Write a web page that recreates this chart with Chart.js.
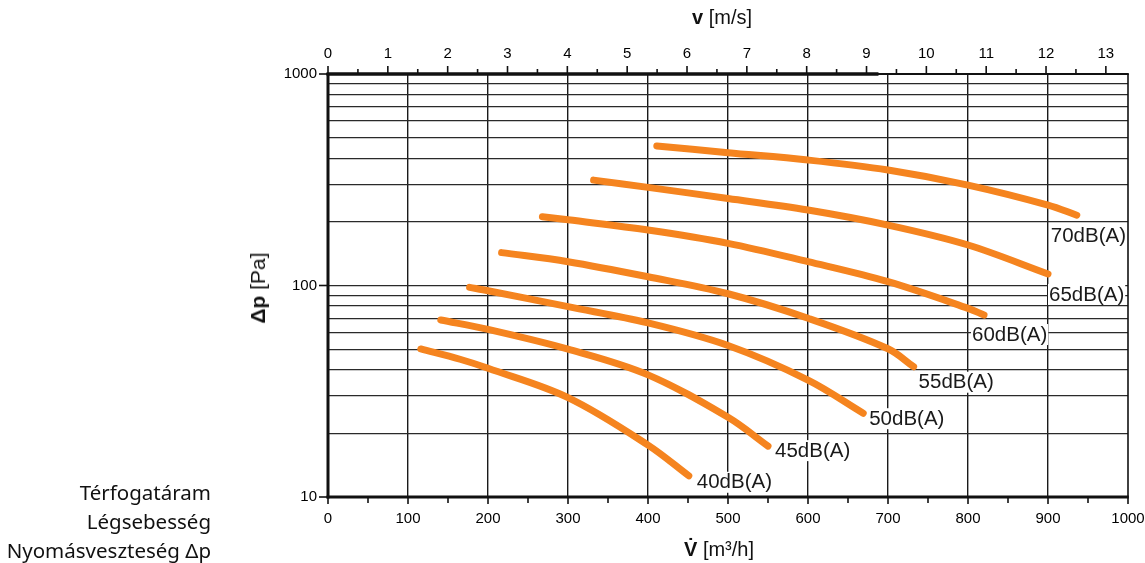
<!DOCTYPE html>
<html>
<head>
<meta charset="utf-8">
<script src="https://cdn.jsdelivr.net/npm/chart.js@4.4.1/dist/chart.umd.min.js"></script>
<style>
  html, body { margin:0; padding:0; background:#fff; }
  #wrap { position:relative; width:1145px; height:563px; overflow:hidden; }
  canvas { position:absolute; left:0; top:0; }
  .t { position:absolute; font-family:"Liberation Sans", Arial, sans-serif; font-size:20px; color:#111; white-space:nowrap; }
  .legend { position:absolute; right:934px; font-family:"Noto Sans", sans-serif; font-size:20.5px; color:#111; text-align:right; white-space:nowrap; line-height:29px; }
</style>
</head>
<body>
<div id="wrap">
  <canvas id="c" width="1145" height="563"></canvas>
  <div class="t" style="left:692px; top:6px;"><b>v</b> [m/s]</div>
  <div class="t" style="left:684px; top:538px;"><b>V&#775;</b> [m³/h]</div>
  <div class="t" style="left:258px; top:288px; font-size:21px; transform:translate(-50%,-50%) rotate(-90deg);"><b>Δp</b> [Pa]</div>
  <div class="legend" style="top:478px;">Térfogatáram<br>Légsebesség<br>Nyomásveszteség Δp</div>
</div>
<script>
// ---- data ----
const curveLabels = ["40dB(A)", "45dB(A)", "50dB(A)", "55dB(A)", "60dB(A)", "65dB(A)", "70dB(A)"];
const flow40 = [116, 165, 200, 300, 400, 451];
const dp40   = [50.1, 44.8, 40.6, 29.5, 17.6, 12.6];
const flow45 = [141, 200, 300, 400, 500, 550];
const dp45   = [68.7, 62, 50, 37.8, 23.8, 17.4];
const flow50 = [177, 200, 300, 400, 500, 600, 669];
const dp50   = [98, 94.5, 79.4, 66.5, 52, 35.7, 24.9];
const flow55 = [217, 300, 400, 500, 600, 700, 732];
const dp55   = [143, 129.6, 110, 91.4, 70, 50.2, 41.3];
const flow60 = [268, 300, 400, 500, 600, 700, 800, 820];
const dp60   = [211.6, 204.5, 183, 158.3, 129.6, 104.2, 78, 72.5];
const flow65 = [332, 400, 500, 600, 700, 800, 900];
const dp65   = [315, 291, 258, 227.5, 193, 155.4, 113.4];
const flow70 = [411, 500, 600, 700, 800, 900, 936];
const dp70   = [457, 424.6, 392, 351.6, 298.5, 240, 215];
const flowTicks = [0, 100, 200, 300, 400, 500, 600, 700, 800, 900, 1000];
const speedTicks = [0,1,2,3,4,5,6,7,8,9,10,11,12,13];
const dpTicks = [10, 100, 1000];
const flowMin = 0, flowMax = 1000;
const speedMax = 13.37;
const dpMin = 10, dpMax = 1000;

const flows = [flow40, flow45, flow50, flow55, flow60, flow65, flow70];
const dps   = [dp40, dp45, dp50, dp55, dp60, dp65, dp70];

// label offsets in pixels from curve end (style only)
const labelOffsets = [[8,6],[7,4],[6,5],[5,15],[-12,19],[1,20],[-26,20]];

const ORANGE = '#F5841F';
const FONT = '"Liberation Sans", Arial, sans-serif';

const datasets = flows.map((fl, i) => ({
  label: curveLabels[i],
  data: fl.map((v, j) => ({x: v, y: dps[i][j]})),
  borderColor: ORANGE,
  borderWidth: 7,
  borderCapStyle: 'round',
  borderJoinStyle: 'round',
  pointRadius: 0,
  fill: false,
  tension: 0.35,
  xAxisID: 'x',
  yAxisID: 'y'
}));

const deco = {
  id: 'deco',
  afterDraw(chart) {
    const {ctx, chartArea} = chart;
    const {left, right, top, bottom} = chartArea;
    const x = chart.scales.x, x2 = chart.scales.x2, y = chart.scales.y;
    ctx.save();
    ctx.strokeStyle = '#111';
    ctx.lineCap = 'butt';
    const ln = (a,b,c,d,w) => { ctx.lineWidth = w; ctx.beginPath(); ctx.moveTo(a,b); ctx.lineTo(c,d); ctx.stroke(); };
    for (let v = flowMin; v <= flowMax; v += 50) {
      const px = x.getPixelForValue(v);
      ln(px, bottom, px, bottom + (flowTicks.includes(v) ? 7 : 6), 1.6);
    }
    for (let v = 0; v <= speedMax; v += 0.5) {
      const px = x2.getPixelForValue(v);
      ln(px, top, px, top - (speedTicks.includes(v) ? 8 : 5), 1.6);
    }
    dpTicks.forEach(v => { const py = y.getPixelForValue(v); ln(left - 9, py, left, py, 1.6); });
    ln(left, top - 1, left, bottom + 1.5, 3);
    ln(left - 1.5, bottom, right + 0.8, bottom, 3);
    ln(left - 1.5, top, right + 0.8, top, 2.2);
    ln(left - 1.5, top, x2.getPixelForValue(9.2), top, 3.4);
    ln(right, top, right, bottom, 1.6);
    ctx.font = '20.5px ' + FONT;
    ctx.textBaseline = 'middle';
    ctx.textAlign = 'left';
    flows.forEach((fl, i) => {
      const n = fl.length - 1;
      const px = x.getPixelForValue(fl[n]);
      const py = y.getPixelForValue(dps[i][n]);
      const tx = px + labelOffsets[i][0], ty = py + labelOffsets[i][1];
      const w = ctx.measureText(curveLabels[i]).width;
      ctx.fillStyle = '#fff';
      ctx.fillRect(tx - 1, ty - 10, w + 2, 21);
      ctx.fillStyle = '#1a1a1a';
      ctx.fillText(curveLabels[i], tx, ty + 1);
    });
    ctx.restore();
  }
};

const noPad = s => { s.paddingLeft = 0; s.paddingRight = 0; };

new Chart(document.getElementById('c'), {
  type: 'line',
  data: { datasets },
  plugins: [deco],
  options: {
    responsive: false,
    animation: false,
    devicePixelRatio: 1,
    layout: { padding: { left: 0, right: 17, top: 0, bottom: 0 } },
    plugins: { legend: { display: false }, tooltip: { enabled: false } },
    scales: {
      x: {
        type: 'linear', position: 'bottom', min: flowMin, max: flowMax,
        afterFit: s => { s.height = 66; noPad(s); },
        afterBuildTicks: s => { const t = []; for (let v = flowMin; v <= flowMax; v += 50) t.push({value: v}); s.ticks = t; },
        ticks: {
          autoSkip: false, maxRotation: 0, padding: 13,
          font: { family: FONT, size: 15 }, color: '#000',
          callback: v => flowTicks.includes(v) ? String(v) : ''
        },
        grid: {
          drawTicks: false,
          color: c => (c.tick && flowTicks.includes(c.tick.value) && c.tick.value > flowMin && c.tick.value < flowMax) ? '#1a1a1a' : 'rgba(0,0,0,0)',
          lineWidth: 1.4
        },
        border: { display: false }
      },
      x2: {
        type: 'linear', position: 'top', min: 0, max: speedMax,
        afterFit: s => { s.height = 74; noPad(s); },
        afterBuildTicks: s => { s.ticks = speedTicks.map(v => ({value: v})); },
        ticks: {
          autoSkip: false, maxRotation: 0, padding: 11,
          font: { family: FONT, size: 15 }, color: '#000',
          callback: v => String(v)
        },
        grid: { display: false, drawTicks: false },
        border: { display: false }
      },
      y: {
        type: 'logarithmic', position: 'left', min: dpMin, max: dpMax,
        afterFit: s => { s.width = 328; },
        afterBuildTicks: s => {
          const t = [];
          for (let e = 1; e <= 3; e++) for (let m = 1; m <= 9; m++) { const v = m * Math.pow(10, e); if (v <= dpMax) t.push({value: v, major: m === 1}); }
          s.ticks = t;
        },
        ticks: {
          autoSkip: false, padding: 11,
          font: { family: FONT, size: 15 }, color: '#000',
          callback: v => dpTicks.includes(v) ? String(v) : ''
        },
        grid: {
          drawTicks: false,
          color: c => (c.tick && (c.tick.value === dpMin || c.tick.value === dpMax)) ? 'rgba(0,0,0,0)' : '#2a2a2a',
          lineWidth: 1.3
        },
        border: { display: false }
      }
    }
  }
});
</script>
</body>
</html>
